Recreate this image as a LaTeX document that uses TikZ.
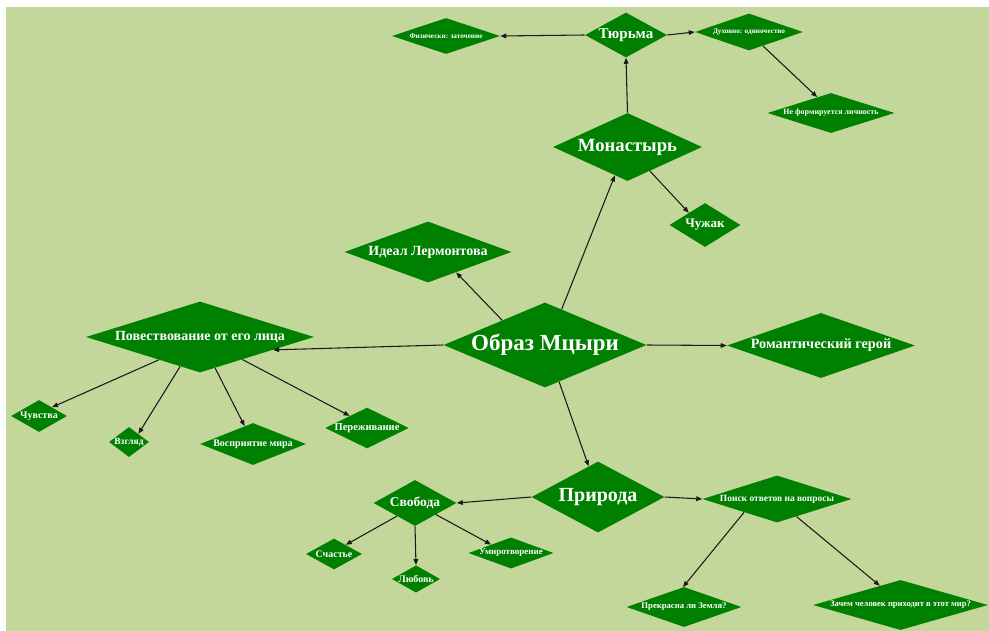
\documentclass[tikz,border=0pt]{standalone}
\usepackage{fontspec}
\setmainfont{Liberation Serif}
\usetikzlibrary{shapes.geometric,arrows.meta}
\definecolor{bgol}{HTML}{C4D79B}
\definecolor{dgreen}{HTML}{008000}
\definecolor{arr}{HTML}{1A1A1A}
\tikzset{
  dia/.style n args={3}{diamond, fill=dgreen, text=white, inner sep=0pt,
    minimum width=#1*0.75pt, minimum height=#2*0.75pt, shape aspect=#3},
  fs/.style={font=\bfseries\fontsize{#1pt}{#1pt}\selectfont},
  link/.style={draw=arr, line width=0.8pt, -{Triangle[length=4.5pt,width=3.5pt]}}
}
\begin{document}
\begin{tikzpicture}[x=0.75pt,y=-0.75pt]
\useasboundingbox (0,0) rectangle (989,631);
\fill[bgol] (6,7) rectangle (989,631);

\node[dia={203}{85}{2.39}, fs=17.25] (obraz) at (545,345) {Образ Мцыри};
\node[dia={228}{71}{3.21}, fs=10.5] (pov) at (200,337) {Повествование от его лица};
\node[dia={167}{61}{2.74}, fs=10.5] (ideal) at (428,252) {Идеал Лермонтова};
\node[dia={149}{68}{2.19}, fs=14] (mon) at (627.5,147) {Монастырь};
\node[dia={82}{45}{1.82}, fs=11.25] (tur) at (626,35) {Тюрьма};
\node[dia={108}{36}{3.0}, fs=5.4] (fiz) at (446,36) {Физически: заточение};
\node[dia={108}{37}{2.92}, fs=5.4] (duh) at (749,32) {Духовно: одиночество};
\node[dia={127}{40}{3.18}, fs=6] (nef) at (831,113) {Не формируется личность};
\node[dia={71}{44}{1.61}, fs=9.75] (chu) at (705,225) {Чужак};
\node[dia={188}{65}{2.89}, fs=10.7] (rom) at (821,345.5) {Романтический герой};
\node[dia={56}{32}{1.75}, fs=7.5] (chuv) at (39,416) {Чувства};
\node[dia={40}{30}{1.33}, fs=7.1] (vzg) at (129,442) {Взгляд};
\node[dia={106}{42}{2.52}, fs=7.5] (vos) at (253,444) {Восприятие мира};
\node[dia={78}{38}{2.05}, fs=7.9] (per) at (367,428) {Переживание};
\node[dia={133}{71}{1.87}, fs=15] (prir) at (598,497) {Природа};
\node[dia={83}{46}{1.8}, fs=10.1] (svo) at (415,503) {Свобода};
\node[dia={56}{31}{1.8}, fs=7.5] (sch) at (334,554) {Счастье};
\node[dia={46}{26}{1.77}, fs=7.5] (lub) at (416,579) {Любовь};
\node[dia={82}{30}{2.73}, fs=6.75] (umi) at (511,553) {Умиротворение};
\node[dia={149}{47}{3.17}, fs=7.1] (poi) at (777,499) {Поиск ответов на вопросы};
\node[dia={115}{40}{2.88}, fs=6.5] (pre) at (684,607) {Прекрасна ли Земля?};
\node[dia={175}{50}{3.5}, fs=6.4] (zach) at (900.5,605) {Зачем человек приходит в этот мир?};

\draw[link] (obraz.west) -- (pov.-10);
\draw[link] (obraz.150) -- (ideal.-36);
\draw[link] (obraz.65) -- (mon.-114);
\draw[link] (obraz.east) -- (rom.west);
\draw[link] (obraz.-69) -- (prir.107);
\draw[link] (mon.north) -- (tur.south);
\draw[link] (mon.-47) -- (chu.143);
\draw[link] (tur.west) -- (fiz.east);
\draw[link] (tur.east) -- (duh.west);
\draw[link] (duh.-45) -- (nef.131);
\draw[link] (pov.-151) -- (chuv.34);
\draw[link] (pov.-124) -- (vzg.41);
\draw[link] (pov.-64) -- (vos.115);
\draw[link] (pov.-28) -- (per.145);
\draw[link] (prir.west) -- (svo.east);
\draw[link] (prir.east) -- (poi.west);
\draw[link] (svo.-144) -- (sch.38);
\draw[link] (svo.south) -- (lub.north);
\draw[link] (svo.-29) -- (umi.157);
\draw[link] (poi.-158) -- (pre.93);
\draw[link] (poi.-42) -- (zach.137);
\end{tikzpicture}
\end{document}
